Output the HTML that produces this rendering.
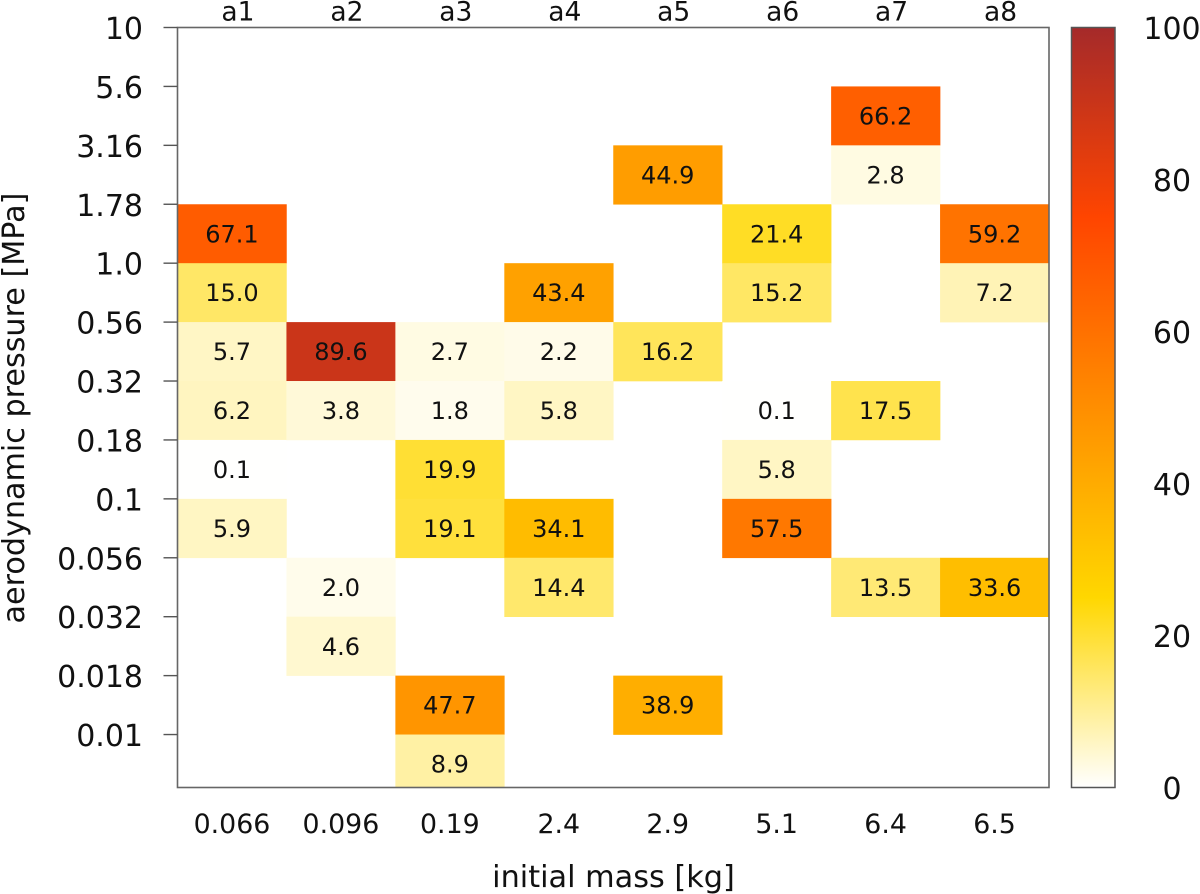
<!DOCTYPE html>
<html lang="en">
<head>
<meta charset="utf-8">
<title>Heatmap of initial mass vs aerodynamic pressure</title>
<style>
html,body{margin:0;padding:0;background:#fff;}
svg{display:block;}
text{font-family:"DejaVu Sans","Liberation Sans",sans-serif;fill:#111;}
</style>
</head>
<body>
<svg id="chart" xmlns="http://www.w3.org/2000/svg" width="1200" height="894" viewBox="0 0 1200 894"></svg>
<script>
const massLabels = ["0.066","0.096","0.19","2.4","2.9","5.1","6.4","6.5"];
const seriesLabels = ["a1","a2","a3","a4","a5","a6","a7","a8"];
const pressureLabels = ["10","5.6","3.16","1.78","1.0","0.56","0.32","0.18","0.1","0.056","0.032","0.018","0.01"];
const colorbarTicks = [0,20,40,60,80,100];
const a1 = [null,null,null,67.1,15.0,5.7,6.2,0.1,5.9,null,null,null,null];
const a2 = [null,null,null,null,null,89.6,3.8,null,null,2.0,4.6,null,null];
const a3 = [null,null,null,null,null,2.7,1.8,19.9,19.1,null,null,47.7,8.9];
const a4 = [null,null,null,null,43.4,2.2,5.8,null,34.1,14.4,null,null,null];
const a5 = [null,null,44.9,null,null,16.2,null,null,null,null,null,38.9,null];
const a6 = [null,null,null,21.4,15.2,null,0.1,5.8,57.5,null,null,null,null];
const a7 = [null,66.2,2.8,null,null,null,17.5,null,null,13.5,null,null,null];
const a8 = [null,null,null,59.2,7.2,null,null,null,null,33.6,null,null,null];
const columns = [a1,a2,a3,a4,a5,a6,a7,a8];

const svg = document.getElementById('chart');
const NS = 'http://www.w3.org/2000/svg';
const plotL = 177.5, plotR = 1049, plotT = 27.5, plotB = 787.5;
const rowH = 58.92;
const colW = (plotR - plotL) / massLabels.length;
const barL = 1071.5, barR = 1115, barT = 27.5, barB = 787.5;

function xEdge(i){ return plotL + i * colW; }
function xCenter(i){ return plotL + (i + 0.5) * colW; }
function yEdge(i){ return plotT + i * rowH; }
function yCenter(i){ return plotT + (i + 0.5) * rowH; }
function barY(v){ return barB - (v / 100) * (barB - barT); }

function lerp(a,b,t){ return a + (b - a) * t; }
function colorFor(v){
  const s = [[0,255,255,255],[25,255,215,0],[75,255,69,0],[100,165,42,42]];
  for (let i = 0; i < s.length - 1; i++) {
    if (v <= s[i+1][0]) {
      const t = (v - s[i][0]) / (s[i+1][0] - s[i][0]);
      return 'rgb(' + Math.round(lerp(s[i][1],s[i+1][1],t)) + ',' + Math.round(lerp(s[i][2],s[i+1][2],t)) + ',' + Math.round(lerp(s[i][3],s[i+1][3],t)) + ')';
    }
  }
  return 'rgb(165,42,42)';
}

function make(tag, attrs, txt){
  const el = document.createElementNS(NS, tag);
  for (const k in attrs) el.setAttribute(k, attrs[k]);
  if (txt !== undefined) el.textContent = txt;
  return el;
}

const defs = make('defs', {});
const grad = make('linearGradient', {id:'cbar', x1:0, y1:1, x2:0, y2:0});
[0,25,75,100].forEach(function(v){
  grad.appendChild(make('stop', {offset:(v)+'%', 'stop-color':colorFor(v)}));
});
defs.appendChild(grad);
const clip = make('clipPath', {id:'plotClip'});
clip.appendChild(make('rect', {x:plotL, y:plotT, width:plotR-plotL, height:plotB-plotT}));
defs.appendChild(clip);
svg.appendChild(defs);

const bg = make('rect', {x:0, y:0, width:1200, height:894, fill:'#ffffff'});


svg.appendChild(bg);

const cellsGroup = make('g', {'clip-path':'url(#plotClip)'});


svg.appendChild(cellsGroup);

columns.forEach(function(col, c){
  col.forEach(function(v, r){
    if (v === null) return;
    const cell = make('rect', {x:xEdge(c), y:yEdge(r), width:colW+0.3, height:rowH+0.3, fill:colorFor(v)});
    
    
    cellsGroup.appendChild(cell);
  });
});
columns.forEach(function(col, c){
  col.forEach(function(v, r){
    if (v === null) return;
    const t = make('text', {x:xCenter(c), y:yCenter(r)+8.6, 'text-anchor':'middle', 'font-size':'24'}, v.toFixed(1));
    
    
    svg.appendChild(t);
  });
});

const frame = make('rect', {x:plotL, y:plotT, width:plotR-plotL, height:plotB-plotT, fill:'none', stroke:'#666', 'stroke-width':'1.6'});


svg.appendChild(frame);

pressureLabels.forEach(function(lab, i){
  const y = yEdge(i);
  const tick = make('line', {x1:163.5, x2:plotL, y1:y, y2:y, stroke:'#555', 'stroke-width':'1.4'});
  
  
  svg.appendChild(tick);
  const t = make('text', {x:143, y:y+11.5, 'text-anchor':'end', 'font-size':'30'}, lab);
  
  
  svg.appendChild(t);
});

massLabels.forEach(function(lab, i){
  const t = make('text', {x:xCenter(i), y:833, 'text-anchor':'middle', 'font-size':'26.8'}, lab);
  
  
  svg.appendChild(t);
});

seriesLabels.forEach(function(lab, i){
  const t = make('text', {x:xCenter(i)+6, y:20.5, 'text-anchor':'middle', 'font-size':'26.5'}, lab);
  
  
  svg.appendChild(t);
});

const xTitle = make('text', {x:613.5, y:887, 'text-anchor':'middle', 'font-size':'30.3'}, 'initial mass [kg]');


svg.appendChild(xTitle);

const yTitle = make('text', {x:0, y:0, 'text-anchor':'middle', 'font-size':'30.2', transform:'translate(24 408) rotate(-90)'}, 'aerodynamic pressure [MPa]');


svg.appendChild(yTitle);

const bar = make('rect', {x:barL, y:barT, width:barR-barL, height:barB-barT, fill:'url(#cbar)', stroke:'#555', 'stroke-width':'1.5'});


svg.appendChild(bar);

colorbarTicks.forEach(function(v){
  const t = make('text', {x:1172, y:barY(v)+11.5, 'text-anchor':'middle', 'font-size':'30'}, String(v));
  
  
  svg.appendChild(t);
});
</script>
</body>
</html>
